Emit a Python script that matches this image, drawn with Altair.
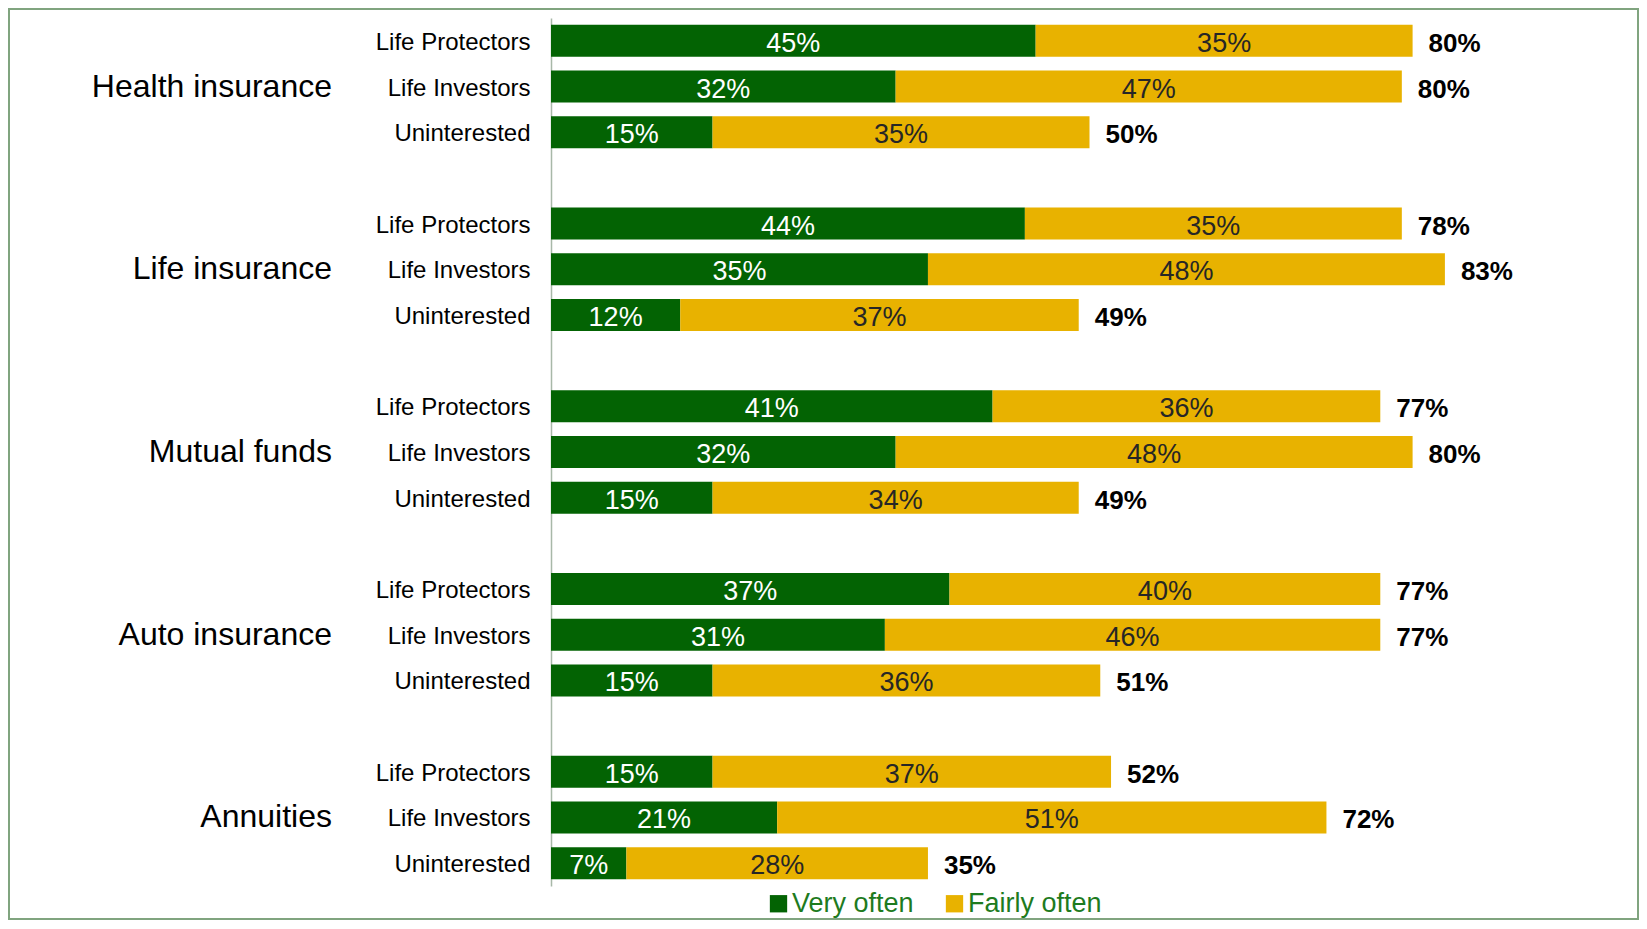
import altair as alt
import pandas as pd

groups = ["Health insurance", "Life insurance", "Mutual funds", "Auto insurance", "Annuities"]
segments = ["Life Protectors", "Life Investors", "Uninterested"]
very_often = [45, 32, 15, 44, 35, 12, 41, 32, 15, 37, 31, 15, 15, 21, 7]
fairly_often = [35, 47, 35, 35, 48, 37, 36, 48, 34, 40, 46, 36, 37, 51, 28]
totals = [80, 80, 50, 78, 83, 49, 77, 80, 49, 77, 77, 51, 52, 72, 35]
series_names = ["Very often", "Fairly often"]
series_colors = ["#036303", "#E8B200"]

FONT = "Liberation Sans"

ydomain = []
rows, trows, grows = [], [], []
for gi, g in enumerate(groups):
    for si, s in enumerate(segments):
        i = gi * 3 + si
        key = f"{g}|{s}"
        ydomain.append(key)
        rows.append(dict(key=key, series=series_names[0], order=0, value=very_often[i], label=f"{very_often[i]}%"))
        rows.append(dict(key=key, series=series_names[1], order=1, value=fairly_often[i], label=f"{fairly_often[i]}%"))
        trows.append(dict(key=key, end=very_often[i] + fairly_often[i], label=f"{totals[i]}%"))
    grows.append(dict(key=f"{g}|Life Investors", name=g))
    if gi < len(groups) - 1:
        ydomain.append(f"gap{gi}|")

df = pd.DataFrame(rows)
tdf = pd.DataFrame(trows)
gdf = pd.DataFrame(grows)

yscale = alt.Scale(domain=ydomain, paddingInner=0.3, paddingOuter=0.15)
xscale = alt.Scale(domain=[0, 100])

base = alt.Chart(df).transform_stack(
    stack="value", groupby=["key"], as_=["x0", "x1"], sort=[alt.SortField("order")]
).transform_calculate(mid="(datum.x0 + datum.x1) / 2")

bars = base.mark_bar(cornerRadius=0).encode(
    x=alt.X("x0:Q", scale=xscale, axis=None),
    x2="x1:Q",
    y=alt.Y(
        "key:N",
        scale=yscale,
        axis=alt.Axis(
            title=None,
            labelExpr="split(datum.value, '|')[1]",
            ticks=False,
            labelPadding=21,
            labelOffset=2,
            labelFontSize=24,
            labelFont=FONT,
            labelColor="#000000",
            domainColor="#A8B8A8",
            domainWidth=1.5,
            labelLimit=400,
            grid=False,
        ),
    ),
    color=alt.Color(
        "series:N",
        scale=alt.Scale(domain=series_names, range=series_colors),
        legend=alt.Legend(
            orient="none",
            legendX=214,
            legendY=872,
            direction="horizontal",
            title=None,
            symbolType="square",
            symbolSize=300,
            symbolStrokeWidth=0,
            labelFontSize=27,
            labelFont=FONT,
            labelColor="#1E7B1E",
            labelOffset=0,
            columnPadding=27,
            padding=0,
        ),
    ),
)

inner = base.mark_text(fontSize=27, font=FONT, baseline="middle", align="center", dy=3).encode(
    x=alt.X("mid:Q", scale=xscale),
    y=alt.Y("key:N", scale=yscale),
    text="label:N",
    color=alt.condition(alt.datum.series == "Very often", alt.value("#FFFFFF"), alt.value("#262626")),
)

tot = alt.Chart(tdf).mark_text(
    fontSize=26, font=FONT, fontWeight="bold", align="left", baseline="middle", dx=16, dy=3, color="#000000"
).encode(
    x=alt.X("end:Q", scale=xscale),
    y=alt.Y("key:N", scale=yscale),
    text="label:N",
)

glab = alt.Chart(gdf).mark_text(
    fontSize=32, font=FONT, align="right", baseline="middle", color="#000000"
).encode(
    x=alt.value(-219),
    y=alt.Y("key:N", scale=yscale),
    text="name:N",
)

border = alt.Chart(pd.DataFrame({"a": [0]})).mark_rect(
    fillOpacity=0, stroke="#80A47F", strokeWidth=2
).encode(
    x=alt.value(-542), x2=alt.value(1087), y=alt.value(-9), y2=alt.value(901)
)

chart = alt.layer(border, bars, inner, tot, glab).properties(
    width=1077,
    height=868,
    autosize=alt.AutoSizeParams(type="none"),
    padding={"left": 543, "top": 10, "right": 11, "bottom": 34},
).configure_view(strokeWidth=0)

chart.save("out.html", embed_options={"renderer": "svg", "actions": False})
